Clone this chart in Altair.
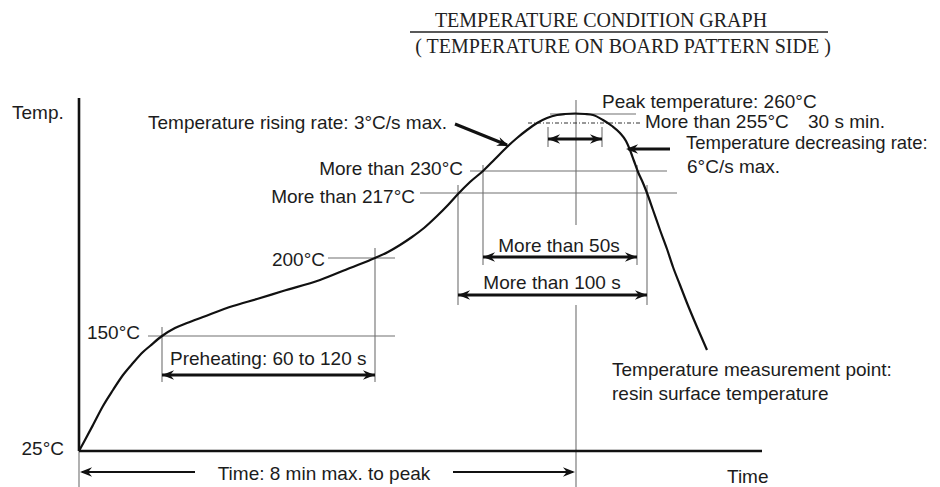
import altair as alt
import pandas as pd

# ---- Diagram coordinate system (schematic units: x to the right, y downward) ----
X_DOMAIN = [8, 932]
Y_DOMAIN = [487, 8]

# Temperature profile curve (schematic)
curve_x = [79, 85, 93, 103, 113, 123, 133, 143, 150, 162, 175, 187, 203, 233, 257, 283, 320,
           350, 375, 388, 400, 412, 424, 436, 448, 458, 470, 483, 495, 507, 517, 527, 537, 547,
           557, 565, 575, 585, 593, 603, 612, 620, 626, 630, 634, 638, 643, 647, 653, 660, 667,
           673, 680, 687, 697, 707]
curve_y = [451, 440, 425, 406, 390, 375, 363, 352, 346, 336, 328, 323, 317, 306, 299, 291, 280,
           268, 258, 252, 245, 237, 228, 217, 205, 194, 182, 171, 159, 147, 138, 130, 123, 118,
           115, 114, 113.5, 114, 115, 120, 126, 133, 141, 150, 161, 172, 183, 193, 210, 230, 249,
           267, 285, 303, 327, 350]

# Main axes (thick)
axis_x1 = [79, 79]
axis_y1 = [98, 451]
axis_x2 = [79, 762]
axis_y2 = [451, 451]

# Thin grey guide lines (temperature levels and time markers)
guide_x1 = [148, 328, 420, 470, 550, 162, 375, 458, 483, 637, 647, 576, 576, 79, 548, 602]
guide_y1 = [336, 258, 193, 171, 114, 327, 248, 185, 165, 165, 185, 100, 305, 451, 127, 127]
guide_x2 = [395, 395, 677, 667, 636, 162, 375, 458, 483, 637, 647, 576, 576, 79, 548, 602]
guide_y2 = [336, 258, 193, 171, 114, 382, 382, 305, 265, 265, 305, 225, 487, 487, 147, 147]

# Dash-dot line at 255 °C
dash_x1 = [528]
dash_y1 = [123]
dash_x2 = [640]
dash_y2 = [123]

# Title underline
uline_x1 = [410]
uline_y1 = [32]
uline_x2 = [828]
uline_y2 = [32]

# Arrow shafts (thick)
shaft_x1 = [162, 483, 458, 548, 670, 455]
shaft_y1 = [375, 257, 295, 139, 149, 124]
shaft_x2 = [375, 637, 647, 602, 628, 507]
shaft_y2 = [375, 257, 295, 139, 149, 145]

# Time arrow shafts (thinner)
tshaft_x1 = [82, 453]
tshaft_y1 = [472, 472]
tshaft_x2 = [195, 573]
tshaft_y2 = [472, 472]

# Arrow heads (tip position and direction in degrees, clockwise from pointing right)
head_x = [162, 375, 483, 637, 458, 647, 548, 602, 626, 509, 80, 575]
head_y = [375, 375, 257, 257, 295, 295, 139, 139, 149, 146, 472, 472]
head_angle = [180, 0, 180, 0, 180, 0, 180, 0, 180, 22, 180, 0]

# Labels
left_text = ["Temp.", "Temperature rising rate: 3°C/s max.", "Peak temperature: 260°C",
             "More than 255°C", "30 s min.", "6°C/s max.",
             "Preheating: 60 to 120 s", "Temperature measurement point:",
             "resin surface temperature", "Time"]
left_x = [12, 148, 602, 645, 808, 687, 170, 612, 612, 727]
left_y = [119, 129, 108, 128, 128, 173, 365, 376, 400, 483]

edge_text = ["Temperature decreasing rate:"]
edge_x = [686]
edge_y = [149]

right_text = ["25°C", "150°C", "200°C", "More than 217°C", "More than 230°C"]
right_x = [64, 140, 325, 415, 463]
right_y = [455, 339, 266, 203, 175]

center_text = ["More than 50s", "More than 100 s", "Time: 8 min max. to peak"]
center_x = [559, 552, 324]
center_y = [252, 289, 480]

title_text = ["TEMPERATURE CONDITION GRAPH", "( TEMPERATURE ON BOARD PATTERN SIDE )"]
title_x = [601, 623]
title_y = [27, 53]

# ---- Build chart ----
xs = alt.Scale(domain=X_DOMAIN, nice=False, zero=False)
ys = alt.Scale(domain=Y_DOMAIN, nice=False, zero=False)

BLACK = "#111111"
GREY = "#707070"
TEXT = "#1c1c1c"
ARROW = "M0,0 L-2.2,-0.85 L-1.5,0 L-2.2,0.85 Z"


def seg_layer(x1, y1, x2, y2, **mark):
    df = pd.DataFrame({"x": x1, "y": y1, "x2": x2, "y2": y2})
    return alt.Chart(df).mark_rule(**mark).encode(
        x=alt.X("x:Q", scale=xs, axis=None),
        y=alt.Y("y:Q", scale=ys, axis=None),
        x2="x2:Q",
        y2="y2:Q",
    )


def text_layer(t, x, y, **mark):
    df = pd.DataFrame({"t": t, "x": x, "y": y})
    return alt.Chart(df).mark_text(baseline="alphabetic", **mark).encode(
        x=alt.X("x:Q", scale=xs, axis=None),
        y=alt.Y("y:Q", scale=ys, axis=None),
        text="t:N",
    )


curve = alt.Chart(pd.DataFrame({"x": curve_x, "y": curve_y})).mark_line(
    color=BLACK, strokeWidth=2.2, interpolate="monotone"
).encode(
    x=alt.X("x:Q", scale=xs, axis=None),
    y=alt.Y("y:Q", scale=ys, axis=None),
)

guides = seg_layer(guide_x1, guide_y1, guide_x2, guide_y2, color=GREY, strokeWidth=1.1)
dash = seg_layer(dash_x1, dash_y1, dash_x2, dash_y2, color="#333333", strokeWidth=1.2,
                 strokeDash=[4, 2, 1, 2])
axes = seg_layer(axis_x1, axis_y1, axis_x2, axis_y2, color=BLACK, strokeWidth=2.6)
uline = seg_layer(uline_x1, uline_y1, uline_x2, uline_y2, color="#222222", strokeWidth=1.6)
shafts = seg_layer(shaft_x1, shaft_y1, shaft_x2, shaft_y2, color=BLACK, strokeWidth=3)
tshafts = seg_layer(tshaft_x1, tshaft_y1, tshaft_x2, tshaft_y2, color=BLACK, strokeWidth=2.2)

heads = alt.Chart(pd.DataFrame({"x": head_x, "y": head_y, "a": head_angle})).mark_point(
    shape=ARROW, filled=True, size=120, color=BLACK, opacity=1, strokeWidth=0
).encode(
    x=alt.X("x:Q", scale=xs, axis=None),
    y=alt.Y("y:Q", scale=ys, axis=None),
    angle=alt.Angle("a:Q", scale=None),
)

FONT = "Liberation Sans"
t_left = text_layer(left_text, left_x, left_y, align="left", font=FONT, fontSize=19, color=TEXT)
t_edge = text_layer(edge_text, edge_x, edge_y, align="left", font=FONT, fontSize=18.5, color=TEXT)
t_right = text_layer(right_text, right_x, right_y, align="right", font=FONT, fontSize=19, color=TEXT)
t_center = text_layer(center_text, center_x, center_y, align="center", font=FONT, fontSize=19, color=TEXT)
t_title = text_layer(title_text, title_x, title_y, align="center", font="Liberation Serif",
                     fontSize=20, color="#222222")

chart = alt.layer(
    guides, dash, uline, curve, axes, shafts, tshafts, heads,
    t_left, t_edge, t_right, t_center, t_title
).properties(
    width=924, height=479, padding=0,
    autosize=alt.AutoSizeParams(type="none"),
    background="white",
).configure_view(stroke=None)

chart.save("out.html", embed_options={"renderer": "svg", "actions": False})
